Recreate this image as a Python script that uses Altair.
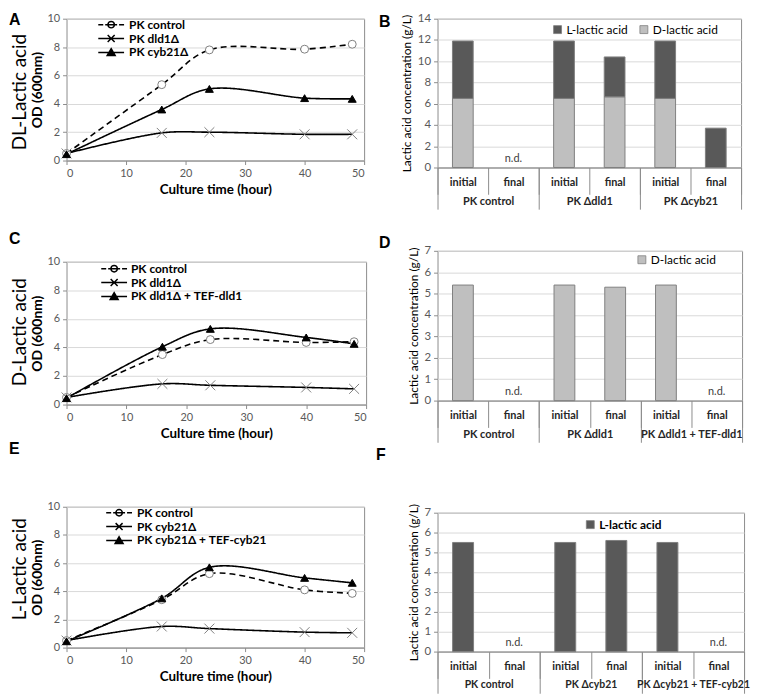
import altair as alt
import pandas as pd

FONT = "Lato"
GRID = "#D9D9D9"
FRAME = "#8C8C8C"
LABEL = "#595959"

# ---------------- data ----------------
time_h = [0, 16, 24, 40, 48]
time_ticks = [0, 10, 20, 30, 40, 50]
od_ticks = [0, 2, 4, 6, 8, 10]

panel_letters = ["A", "B", "C", "D", "E", "F"]
side_titles = ["DL-Lactic acid", "D-Lactic acid", "L-Lactic acid"]

a_series = ["PK control", "PK dld1Δ", "PK cyb21Δ"]
a_control = [0.5, 5.35, 7.8, 7.85, 8.2]
a_dld1 = [0.5, 1.95, 2.0, 1.85, 1.85]
a_cyb21 = [0.45, 3.6, 5.05, 4.4, 4.35]

c_series = ["PK control", "PK dld1Δ", "PK dld1Δ + TEF-dld1"]
c_control = [0.5, 3.5, 4.55, 4.35, 4.4]
c_dld1 = [0.5, 1.45, 1.35, 1.2, 1.1]
c_tef = [0.45, 4.05, 5.3, 4.7, 4.25]

e_series = ["PK control", "PK cyb21Δ", "PK cyb21Δ + TEF-cyb21"]
e_control = [0.5, 3.4, 5.25, 4.1, 3.85]
e_cyb21 = [0.5, 1.5, 1.35, 1.1, 1.05]
e_tef = [0.45, 3.5, 5.7, 4.95, 4.6]

stages = ["initial", "final"]
acids = ["L-lactic acid", "D-lactic acid"]
acid_colors = ["#595959", "#BFBFBF"]

b_groups = ["PK control", "PK Δdld1", "PK Δcyb21"]
b_d_lactic = [6.5, None, 6.5, 6.65, 6.5, None]
b_l_lactic = [5.4, None, 5.4, 3.75, 5.4, 3.7]

d_groups = ["PK control", "PK Δdld1", "PK Δdld1 + TEF-dld1"]
d_d_lactic = [5.4, None, 5.4, 5.3, 5.4, None]

f_groups = ["PK control", "PK Δcyb21", "PK Δcyb21 + TEF-cyb21"]
f_l_lactic = [5.5, None, 5.5, 5.6, 5.5, None]

# ---------------- helpers ----------------
MARKERS = ["circle", "M-1.25,-1.25L1.25,1.25M-1.25,1.25L1.25,-1.25", "triangle-up"]
LEGEND_PATHS = [
    "M-2.6,0H-1.6M-1.2,0H1.2M1.6,0H2.6M0.65,0A0.65,0.65,0,1,1,-0.65,0A0.65,0.65,0,1,1,0.65,0",
    "M-2.6,0H2.6M-0.7,-0.7L0.7,0.7M-0.7,0.7L0.7,-0.7",
    "M-2.6,0H2.6M0,-0.75L0.8,0.6L-0.8,0.6Z",
]
INDEP = dict(color="independent", fill="independent", stroke="independent",
             shape="independent", strokeDash="independent")


def letter_layer(letter, lx, ly):
    return alt.Chart(pd.DataFrame({"letter": [letter]})).mark_text(
        align="left", baseline="top", font="Liberation Sans", fontSize=16,
        fontWeight="bold", color="black"
    ).encode(text="letter:N", x=alt.value(lx), y=alt.value(ly))


def side_layer(text, sx, sy):
    return alt.Chart(pd.DataFrame({"t": [text]})).mark_text(
        angle=270, align="center", baseline="middle", font=FONT, fontSize=19,
        color="black"
    ).encode(text="t:N", x=alt.value(sx), y=alt.value(sy))


def line_panel(letter, side, series, values, w, h, lpos, spos, leg):
    rows = [{"series": s, "time": t, "od": v}
            for s, vals in zip(series, values) for t, v in zip(time_h, vals)]
    df = pd.DataFrame(rows)
    xenc = alt.X("time:Q", scale=alt.Scale(domain=[0, 50], nice=False),
                 axis=alt.Axis(values=time_ticks, title="Culture time (hour)", grid=False,
                               tickSize=4, labelPadding=3, titlePadding=4,
                               titleFontSize=13.5, titleFontWeight="bold", titleColor="black",
                               labelFontSize=11))
    yenc = alt.Y("od:Q", scale=alt.Scale(domain=[0, 10], nice=False),
                 axis=alt.Axis(values=od_ticks, title="OD (600nm)", grid=True, gridColor=GRID,
                               tickSize=4, labelPadding=3, titlePadding=2,
                               titleFontSize=14, titleFontWeight="bold", titleColor="black",
                               labelFontSize=11, domain=False))
    lines = alt.Chart(df).mark_line(interpolate="catmull-rom", color="black", strokeWidth=1.6).encode(
        x=xenc, y=yenc, detail="series:N",
        strokeDash=alt.StrokeDash("series:N", sort=series,
                                  scale=alt.Scale(range=[[6, 4], [1, 0], [1, 0]]), legend=None))
    shape_expr = "datum.value === '%s' ? '%s' : (datum.value === '%s' ? '%s' : '%s')" % (
        series[0], LEGEND_PATHS[0], series[1], LEGEND_PATHS[1], LEGEND_PATHS[2])
    pts = alt.Chart(df).mark_point(filled=True, opacity=1, size=64, strokeWidth=1).encode(
        x=xenc, y=yenc,
        shape=alt.Shape("series:N", sort=series, scale=alt.Scale(range=MARKERS), legend=None),
        fill=alt.Fill("series:N", scale=alt.Scale(domain=series, range=["white", "transparent", "black"]),
                      legend=alt.Legend(
                          title=None, orient="none", legendX=leg[0], legendY=leg[1],
                          symbolSize=100, symbolType={"expr": shape_expr},
                          symbolStrokeColor="black", symbolStrokeWidth=1.5,
                          labelFont=FONT, labelFontSize=12,
                          labelFontWeight="bold", labelColor="black", labelOffset=leg[2],
                          rowPadding=0, padding=0)),
        stroke=alt.Stroke("series:N", sort=series,
                          scale=alt.Scale(range=["#7F7F7F", "#7F7F7F", "black"]), legend=None),
    )
    return alt.layer(lines, pts, letter_layer(letter, *lpos), side_layer(side, *spos)).properties(
        width=w, height=h)


def bar_panel(letter, groups, d_vals, l_vals, domain, w, h, ymax, ystep, lpos, leg, leg_bold, glabel_size):
    cats = [f"{g}|{s}" for g in groups for s in stages]
    rows = []
    nd = []
    for i, c in enumerate(cats):
        dv = d_vals[i] if d_vals is not None else None
        lv = l_vals[i] if l_vals is not None else None
        if dv is not None:
            rows.append({"cat": c, "acid": "D-lactic acid", "value": dv, "ord": 0})
        if lv is not None:
            rows.append({"cat": c, "acid": "L-lactic acid", "value": lv, "ord": 1})
        if dv is None and lv is None:
            nd.append(c)
    df = pd.DataFrame(rows)
    cat_scale = alt.Scale(type="band", domain=cats, paddingInner=0, paddingOuter=0)
    yenc = alt.Y("value:Q", stack="zero", scale=alt.Scale(domain=[0, ymax], nice=False),
                 axis=alt.Axis(values=list(range(0, ymax + 1, ystep)),
                               title="Lactic acid concentration (g/L)", grid=True, gridColor=GRID,
                               tickSize=4, labelPadding=3, titlePadding=4, titleFontSize=12,
                               titleFontWeight="normal", titleColor="black", labelFontSize=11.5,
                               domain=False))
    rng = [acid_colors[acids.index(a)] for a in domain]
    bars = alt.Chart(df).mark_bar(width={"band": 0.41}, stroke="#808080", strokeWidth=1).encode(
        x=alt.X("cat:N", scale=cat_scale, sort=cats,
                axis=alt.Axis(title=None, labelExpr="split(datum.value, '|')[1]", labelAngle=0,
                              tickBand="extent", tickSize=27, labelPadding=-18, labelFontSize=11,
                              labelFontWeight="bold", labelColor="#262626", grid=False)),
        y=yenc,
        color=alt.Color("acid:N", scale=alt.Scale(domain=domain, range=rng),
                        legend=alt.Legend(title=None, orient="none", legendX=leg[0], legendY=leg[1],
                                          direction="horizontal", symbolType="square", symbolSize=64,
                                          symbolStrokeColor="#7F7F7F", symbolStrokeWidth=0.8,
                                          labelFont=FONT, labelFontSize=12, labelColor="black",
                                          labelFontWeight="bold" if leg_bold else "normal",
                                          columnPadding=10, labelOffset=3, padding=0)),
        order=alt.Order("ord:Q"),
    )
    ndl = alt.Chart(pd.DataFrame({"cat": nd, "value": [0] * len(nd)})).mark_text(
        dy=-9, font=FONT, fontSize=11, color="#404040", text="n.d."
    ).encode(x=alt.X("cat:N", scale=cat_scale, axis=None), y=yenc)
    grp = alt.Chart(pd.DataFrame({"group": groups})).mark_point(opacity=0).encode(
        x=alt.X("group:N", sort=groups,
                scale=alt.Scale(type="band", domain=groups, paddingInner=0, paddingOuter=0),
                axis=alt.Axis(orient="bottom", title=None, tickBand="extent", tickSize=42,
                              labelPadding=-14, domain=False, labelAngle=0, labelFontSize=glabel_size,
                              labelFontWeight="bold", labelColor="#262626", grid=False)),
        y=alt.value(0))
    return alt.layer(bars, ndl, grp, letter_layer(letter, *lpos)).resolve_scale(
        x="independent").properties(width=w, height=h)


A = line_panel(panel_letters[0], side_titles[0], a_series, [a_control, a_dld1, a_cyb21],
               300, 143, (-58, -7), (-47, 74), (39, 0, 12))
C = line_panel(panel_letters[2], side_titles[1], c_series, [c_control, c_dld1, c_tef],
               302, 144, (-58, -31), (-47, 71), (42, 1, 11))
E = line_panel(panel_letters[4], side_titles[2], e_series, [e_control, e_cyb21, e_tef],
               300, 142, (-58, -66), (-47, 63), (47, 0, 12))

B = bar_panel(panel_letters[1], b_groups, b_d_lactic, b_l_lactic, acids, 306, 150, 14, 2,
              (-59, -5), (115, 5), False, 11)
D = bar_panel(panel_letters[3], d_groups, d_d_lactic, None, ["D-lactic acid"], 307, 151, 7, 1,
              (-59, -16), (200, 3), False, 11)
F = bar_panel(panel_letters[5], f_groups, None, f_l_lactic, ["L-lactic acid"], 309, 140, 7, 1,
              (-62, -66), (148, 6), True, 10.5)

left = alt.vconcat(alt.vconcat(A, C, spacing=34).resolve_scale(**INDEP).resolve_legend(**INDEP),
                   E, spacing=0).resolve_scale(**INDEP).resolve_legend(**INDEP)
right = alt.vconcat(alt.vconcat(B, D, spacing=24).resolve_scale(**INDEP).resolve_legend(**INDEP),
                    F, spacing=3).resolve_scale(**INDEP).resolve_legend(**INDEP)

chart = alt.hconcat(left, right, spacing=8).resolve_scale(**INDEP).resolve_legend(**INDEP).properties(
    padding=0
).configure_view(stroke=FRAME, strokeWidth=1).configure_axis(
    domainColor=FRAME, tickColor=FRAME, labelColor=LABEL, labelFont=FONT, titleFont=FONT
)

chart.save("out.html", embed_options={"renderer": "svg", "actions": False})
